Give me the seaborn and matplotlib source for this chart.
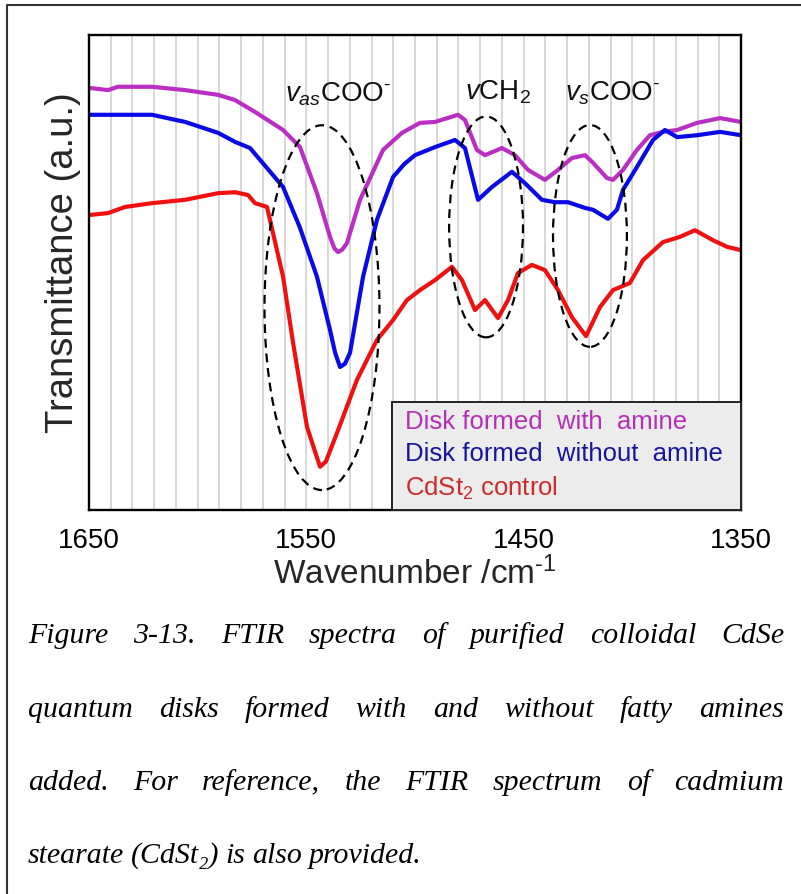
import numpy as np
import pandas as pd
import matplotlib
matplotlib.use("Agg")
import matplotlib.pyplot as plt
import seaborn as sns
from matplotlib.patches import Ellipse
from matplotlib.lines import Line2D
from matplotlib.ticker import MultipleLocator, FixedLocator

# ---------------- data ----------------
wn_amine = [1650, 1648.6, 1641.3, 1636.7, 1621.0, 1605.8, 1590.6, 1582.8, 1573.6, 1560.7,
            1552.9, 1545.1, 1539.1, 1537.0, 1535.4, 1533.5, 1531.3, 1525.3, 1514.7, 1506.0,
            1497.7, 1490.8, 1480.2, 1477.0, 1471.5, 1467.8, 1460.0, 1454.0, 1448.0, 1440.2,
            1434.2, 1427.8, 1421.8, 1418.1, 1411.7, 1408.9, 1404.3, 1397.9, 1391.9, 1385.9,
            1379.4, 1370.2, 1359.6, 1350]
t_amine = [88.8, 88.8, 88.4, 89.1, 89.1, 88.4, 87.4, 86.3, 83.8, 80.0,
           76.4, 66.7, 57.5, 55.0, 54.3, 54.8, 56.2, 65.3, 75.8, 79.4,
           81.5, 81.7, 83.2, 82.1, 75.8, 74.7, 76.2, 74.7, 71.6, 69.5,
           71.6, 74.1, 74.7, 73.1, 69.9, 69.5, 71.6, 75.8, 78.9, 79.6,
           80.0, 81.5, 82.5, 81.7]

wn_noamine = [1650, 1621.0, 1605.8, 1590.6, 1582.8, 1575.9, 1560.7, 1553.0, 1545.1, 1539.1,
              1536.8, 1534.5, 1532.2, 1529.9, 1523.9, 1517.5, 1510.1, 1505.0, 1500.0, 1490.8,
              1481.6, 1477.0, 1471.0, 1464.6, 1455.4, 1449.4, 1441.6, 1435.6, 1429.6, 1421.8,
              1418.1, 1411.2, 1407.1, 1404.3, 1397.9, 1390.5, 1385.0, 1379.4, 1370.2, 1359.6,
              1350]
t_noamine = [83.2, 83.2, 81.7, 79.4, 77.5, 76.2, 68.0, 59.5, 49.1, 37.9,
             33.2, 30.1, 30.8, 33.1, 49.1, 61.1, 70.1, 72.8, 74.7, 76.4,
             77.9, 76.2, 65.3, 68.0, 71.2, 68.8, 65.3, 64.8, 64.8, 63.6,
             63.2, 61.3, 63.2, 67.4, 72.2, 77.9, 80.0, 78.5, 78.9, 79.6,
             78.9]

wn_cdst = [1650, 1641.3, 1633.4, 1621.0, 1605.8, 1590.6, 1582.8, 1576.8, 1573.6, 1568.1,
           1560.7, 1556.1, 1549.7, 1546.0, 1543.7, 1541.0, 1535.9, 1526.7, 1517.5, 1510.1,
           1503.7, 1497.7, 1490.8, 1483.0, 1478.4, 1472.4, 1467.8, 1461.8, 1457.2, 1452.6,
           1446.2, 1440.2, 1434.2, 1427.8, 1421.3, 1414.9, 1408.9, 1401.1, 1395.1, 1385.9,
           1378.1, 1371.2, 1362.9, 1356.4, 1350]
t_cdst = [62.1, 62.5, 63.8, 64.6, 65.3, 66.7, 66.9, 66.3, 64.6, 63.8,
          49.1, 35.2, 17.5, 12.3, 9.1, 10.2, 16.2, 27.4, 35.8, 40.0,
          44.2, 46.3, 48.4, 51.2, 48.4, 42.1, 44.2, 40.4, 44.2, 49.9,
          51.6, 50.5, 46.3, 40.6, 36.6, 42.7, 46.3, 47.8, 52.6, 56.4,
          57.5, 58.9, 56.8, 55.4, 54.7]

series_labels = ["Disk formed  with  amine", "Disk formed  without  amine", "CdSt$_2$ control"]
x_ticks = [1650, 1550, 1450, 1350]

# band regions (centre wn, centre T, width, height) and labels
band_labels = [r"$\mathit{v}_{\mathit{as}}$COO$^{\text{-}}$", r"$\mathit{v}$CH$_2$",
               r"$\mathit{v}_{\mathit{s}}$COO$^{\text{-}}$"]
band_label_pos = [(1559.8, 85.9), (1477.0, 86.4), (1431.0, 86.3)]
band_ellipses = [(1542.8, 42.6, 52.9, 76.8), (1467.3, 59.6, 34.0, 46.5), (1419.5, 57.7, 34.0, 46.7)]

caption_lines = [
    "Figure 3-13. FTIR spectra of purified colloidal CdSe",
    "quantum disks formed with and without fatty amines",
    "added. For reference, the FTIR spectrum of cadmium",
    "stearate (CdSt\u2082) is also provided.",
]

# ---------------- style ----------------
sns.set_theme(style="white")
plt.rcParams["font.family"] = ["Liberation Sans", "DejaVu Sans"]
plt.rcParams["mathtext.fontset"] = "custom"
plt.rcParams["mathtext.rm"] = "Liberation Sans"
plt.rcParams["mathtext.it"] = "Liberation Sans:italic"
plt.rcParams["mathtext.bf"] = "Liberation Sans:bold"

W, H = 801, 894
fig = plt.figure(figsize=(W / 100, H / 100), dpi=100)
fig.patch.set_facecolor("white")
ax = fig.add_axes([89 / W, 1 - 510 / H, (741 - 89) / W, (510 - 35) / H])

colors = ["#bb2ec4", "#0a0ae6", "#f01010"]
text_colors = ["#b52fb5", "#16169a", "#cc2b2b"]

df = pd.concat([
    pd.DataFrame({"wn": wn_amine, "T": t_amine, "sample": series_labels[0]}),
    pd.DataFrame({"wn": wn_noamine, "T": t_noamine, "sample": series_labels[1]}),
    pd.DataFrame({"wn": wn_cdst, "T": t_cdst, "sample": series_labels[2]}),
])

sns.lineplot(data=df, x="wn", y="T", hue="sample", hue_order=series_labels,
             palette=dict(zip(series_labels, colors)), linewidth=3.0,
             estimator=None, legend=False, ax=ax,
             solid_joinstyle="round", solid_capstyle="round")

ax.set_xlim(1650, 1350)
ax.set_ylim(0, 100)
ax.xaxis.set_major_locator(FixedLocator(x_ticks))
ax.set_xticklabels([str(t) for t in x_ticks])
ax.xaxis.set_minor_locator(MultipleLocator(10))
ax.set_yticks([])
ax.grid(False)
ax.grid(True, axis="x", which="both", color="#d6d6d6", linewidth=1.3)
ax.set_axisbelow(True)
ax.tick_params(axis="x", which="major", direction="out", length=5, width=1.6,
               labelsize=20, pad=8, colors="black")
ax.tick_params(axis="x", which="minor", length=0)
for s in ax.spines.values():
    s.set_visible(True)
    s.set_color("black")
    s.set_linewidth(1.7)

ax.set_xlabel(r"Wavenumber /cm$^{\text{-}1}$", fontsize=24, labelpad=2)
ax.set_ylabel("Transmittance (a.u.)", fontsize=27.5)
ax.yaxis.set_label_coords(-0.012, 0.52)

for (cx, cy, w, h) in band_ellipses:
    ax.add_patch(Ellipse((cx, cy), w, h, fill=False, edgecolor="black",
                         linewidth=1.6, linestyle=(0, (4, 2.6)), zorder=5))
for lab, (lx, ly) in zip(band_labels, band_label_pos):
    ax.text(lx, ly, lab, fontsize=20, ha="left", va="baseline", color="#111111")

handles = [Line2D([], [], linestyle="none") for _ in series_labels]
leg = ax.legend(handles, series_labels, loc="lower left",
                bbox_to_anchor=(0.465, 0.0, 0.535, 0.238), mode="expand",
                borderaxespad=0, fontsize=18.5, labelcolor=text_colors,
                handlelength=0, handletextpad=0.2, labelspacing=0.34,
                borderpad=0.3, frameon=True, fancybox=False, framealpha=1)
leg.get_frame().set_facecolor("#ececec")
leg.get_frame().set_edgecolor("#222222")
leg.get_frame().set_linewidth(1.4)
leg.set_zorder(6)

# outer border (left and top)
fig.add_artist(Line2D([7 / W, 7 / W, 1.0], [0.0, 1 - 5 / H, 1 - 5 / H],
                      transform=fig.transFigure, color="#333333", linewidth=1.5))

# caption, justified
fig.canvas.draw()
renderer = fig.canvas.get_renderer()
x0, x1 = 28, 784
baselines = [643, 717, 790, 863]
cap_kw = dict(fontsize=21.5, style="italic", family=["Liberation Serif", "DejaVu Serif"],
              va="baseline", ha="left", color="black")
for i, (line, yb) in enumerate(zip(caption_lines, baselines)):
    words = line.split(" ")
    texts = [fig.text(0, 1 - yb / H, w, **cap_kw) for w in words]
    widths = [t.get_window_extent(renderer).width for t in texts]
    if i < len(caption_lines) - 1 and len(words) > 1:
        gap = ((x1 - x0) - sum(widths)) / (len(words) - 1)
    else:
        gap = 6.5
    x = x0
    for t, wdt in zip(texts, widths):
        t.set_x(x / W)
        x += wdt + gap

fig.savefig("out.png", dpi=100)
